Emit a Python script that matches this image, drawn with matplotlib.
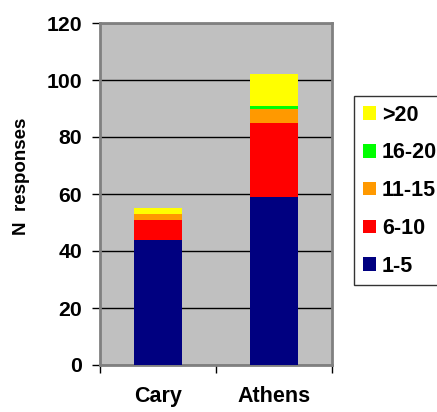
import matplotlib.pyplot as plt
from matplotlib.patches import Patch
import numpy as np

plt.rcParams['font.family'] = ['Liberation Sans', 'DejaVu Sans']
plt.rcParams['font.weight'] = 'bold'

sites = ['Cary', 'Athens']
groups = ['1-5', '6-10', '11-15', '16-20', '>20']
counts = {
    '1-5': [44, 59],
    '6-10': [7, 26],
    '11-15': [2, 5],
    '16-20': [0, 1],
    '>20': [2, 11],
}
colors = ['#000080', '#FF0000', '#FF9900', '#00FF00', '#FFFF00']

fig = plt.figure(figsize=(4.37, 4.12), dpi=100)
ax = fig.add_axes([100 / 437, 47 / 412, 232 / 437, 342 / 412])
ax.set_facecolor('#C0C0C0')

x = np.arange(len(sites))
bottom = np.zeros(len(sites))
for g, c in zip(groups, colors):
    vals = np.array(counts[g], dtype=float)
    ax.bar(x, vals, width=0.41, bottom=bottom, color=c, zorder=3, linewidth=0)
    bottom += vals

ax.set_ylim(0, 120)
ax.set_xlim(-0.5, 1.5)
ax.set_yticks(range(0, 121, 20))
ax.yaxis.grid(True, color='black', linewidth=1.0, zorder=1)
ax.set_axisbelow(True)

# category boundaries get ticks, labels sit in between
ax.set_xticks([-0.5, 0.5, 1.5])
ax.set_xticklabels([])
ax.set_xticks(x, minor=True)
ax.set_xticklabels(sites, minor=True, fontsize=15.5, fontweight='bold')
ax.tick_params(axis='x', which='major', length=6, width=1, direction='out')
ax.tick_params(axis='x', which='minor', length=0, pad=15)
ax.tick_params(axis='y', length=6, width=1, pad=7, labelsize=15.3)

for s in ax.spines.values():
    s.set_color('#808080')
    s.set_linewidth(2)

fig.text(22 / 437, 1 - 176 / 412, 'N  responses', rotation=90, ha='center',
         va='center', fontsize=13.5, fontweight='bold')

handles = [Patch(facecolor=c, edgecolor='none', label=g)
           for g, c in zip(groups, colors)][::-1]
leg = fig.legend(handles=handles, loc='upper left',
                 bbox_to_anchor=(354 / 437, 1 - 96 / 412),
                 fontsize=15.5, frameon=True, fancybox=False,
                 handlelength=0.6, handleheight=0.6, handletextpad=0.3,
                 labelspacing=0.78, borderpad=0.4, borderaxespad=0)
leg.get_frame().set_edgecolor('black')
leg.get_frame().set_linewidth(1)
for t in leg.get_texts():
    t.set_fontweight('bold')

fig.savefig('out.png', dpi=100)
